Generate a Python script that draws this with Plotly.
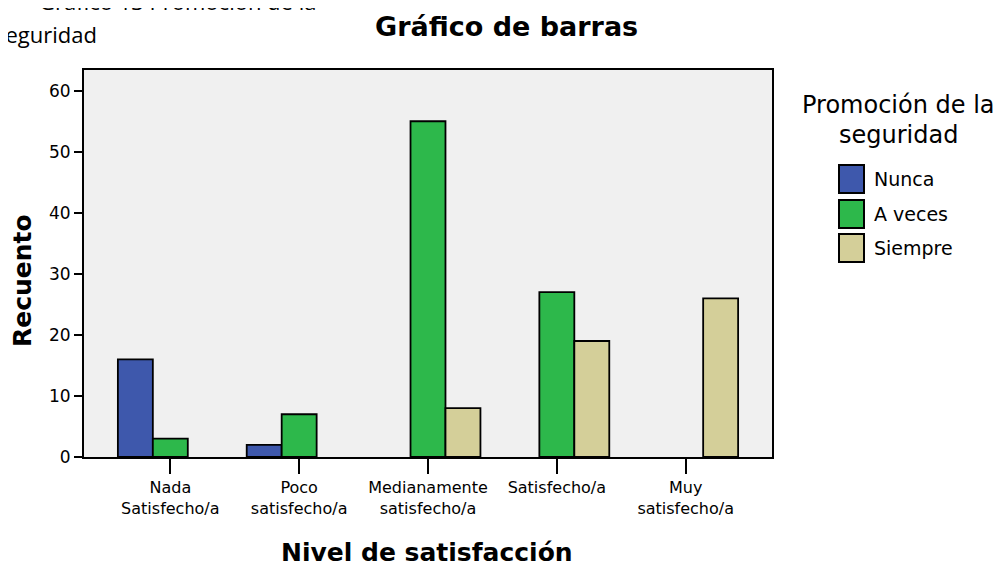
import plotly.graph_objects as go

# ---- data ----
categories = ["Nada<br>Satisfecho/a", "Poco<br>satisfecho/a", "Medianamente<br>satisfecho/a",
              "Satisfecho/a", "Muy<br>satisfecho/a"]
series_names = ["Nunca", "A veces", "Siempre"]
nunca = [16, 2, None, None, None]
a_veces = [3, 7, 55, 27, None]
siempre = [None, None, 8, 19, 26]
y_ticks = [0, 10, 20, 30, 40, 50, 60]

colors = ["#3e58ac", "#2db84b", "#d4cf99"]
values = [nunca, a_veces, siempre]

W, H = 1003, 566
OFF = 8  # page body margin offset
L, R, T, B = 84 - OFF, 772 - OFF, 70 - OFF, 457 - OFF


def px(x):
    return (x - OFF - L) / (R - L)


def py(y):
    return (B - (y - OFF)) / (B - T)


FONT = "DejaVu Sans"

fig = go.Figure()
for name, vals, col in zip(series_names, values, colors):
    fig.add_trace(go.Bar(
        x=categories, y=vals, name=name,
        marker=dict(color=col, line=dict(color="black", width=1.8)),
        showlegend=False,
    ))

fig.update_layout(
    width=W, height=H,
    margin=dict(l=L, r=W - R, t=T, b=H - B),
    paper_bgcolor="white",
    plot_bgcolor="#f0f0f0",
    barmode="group",
    bargap=0.186,
    bargroupgap=0,
    font=dict(family=FONT, color="black"),
)

fig.update_xaxes(
    type="category",
    range=[-0.67, 4.67],
    showline=True, linecolor="black", linewidth=2, mirror=True,
    ticks="outside", ticklen=15, tickwidth=2, tickcolor="black",
    tickfont=dict(family=FONT, size=16, color="black"),
    showgrid=False, zeroline=False,
)
fig.update_yaxes(
    range=[0, 63.4],
    tickvals=y_ticks,
    showline=True, linecolor="black", linewidth=2, mirror=True,
    ticks="outside", ticklen=8, tickwidth=2, tickcolor="black",
    tickfont=dict(family=FONT, size=17, color="black"),
    showgrid=False, zeroline=False,
)

ann = []
# chart title
ann.append(dict(text="<b>Gráfico de barras</b>", x=px(506), y=py(27), xref="paper", yref="paper",
                showarrow=False, xanchor="center", yanchor="middle",
                font=dict(family=FONT, size=27, color="black")))
# x axis title
ann.append(dict(text="<b>Nivel de satisfacción</b>", x=px(427), y=py(552), xref="paper", yref="paper",
                showarrow=False, xanchor="center", yanchor="middle",
                font=dict(family=FONT, size=25, color="black")))
# y axis title
ann.append(dict(text="<b>Recuento</b>", x=px(22), y=py(281), xref="paper", yref="paper",
                showarrow=False, xanchor="center", yanchor="middle", textangle=-90,
                font=dict(family=FONT, size=25, color="black")))
# cut-off caption at top-left (as in the source image)
ann.append(dict(text="Gráfico 13 Promoción de la", x=px(318), y=py(1), xref="paper", yref="paper",
                showarrow=False, xanchor="right", yanchor="middle",
                font=dict(family="Open Sans", size=22, color="black")))
ann.append(dict(text="seguridad", x=px(-7), y=py(34), xref="paper", yref="paper",
                showarrow=False, xanchor="left", yanchor="middle",
                font=dict(family="Open Sans", size=22, color="black")))
# legend title
ann.append(dict(text="Promoción de la", x=px(898), y=py(105), xref="paper", yref="paper",
                showarrow=False, xanchor="center", yanchor="middle",
                font=dict(family=FONT, size=24, color="black")))
ann.append(dict(text="seguridad", x=px(898), y=py(135), xref="paper", yref="paper",
                showarrow=False, xanchor="center", yanchor="middle",
                font=dict(family=FONT, size=24, color="black")))

shapes = []
sw_top = [165, 200, 234]
for i, (name, col) in enumerate(zip(series_names, colors)):
    y0, y1 = sw_top[i], sw_top[i] + 28
    shapes.append(dict(type="rect", xref="paper", yref="paper",
                       x0=px(839), x1=px(864), y0=py(y1), y1=py(y0),
                       fillcolor=col, line=dict(color="black", width=2)))
    ann.append(dict(text=name, x=px(872), y=py((y0 + y1) / 2), xref="paper", yref="paper",
                    showarrow=False, xanchor="left", yanchor="middle",
                    font=dict(family=FONT, size=19, color="black")))

fig.update_layout(annotations=ann, shapes=shapes)

fig.write_html("out.html")
